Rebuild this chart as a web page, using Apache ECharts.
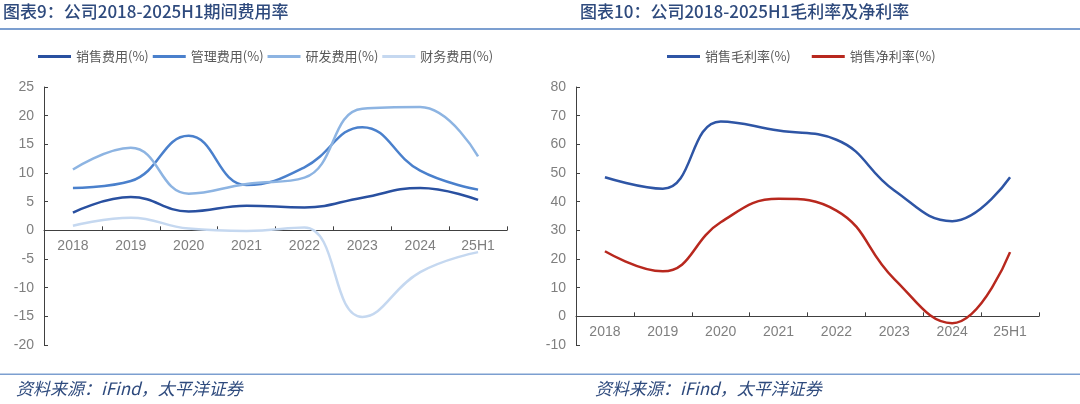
<!DOCTYPE html>
<html>
<head>
<meta charset="utf-8">
<script src="https://cdn.jsdelivr.net/npm/echarts@6/dist/echarts.min.js"></script>
<style>
html,body{margin:0;padding:0;background:#fff;}
#c{width:1080px;height:404px;}
</style>
</head>
<body>
<div id="c"></div>
<script>
var categories = ['2018','2019','2020','2021','2022','2023','2024','25H1'];
var sellingExp = [3.1, 5.8, 3.3, 4.3, 4.0, 5.7, 7.4, 5.3];
var adminExp   = [7.4, 8.6, 16.5, 7.9, 11.0, 18.0, 10.4, 7.1];
var rdExp      = [10.6, 14.4, 6.4, 8.1, 9.2, 21.2, 21.5, 12.9];
var finExp     = [0.8, 2.2, 0.3, -0.1, 0.5, -15.1, -7.3, -3.8];
var grossMargin = [48.5, 44.5, 68.0, 64.8, 61.6, 43.9, 33.2, 48.5];
var netMargin   = [22.7, 15.7, 32.8, 41.0, 36.9, 13.0, -2.4, 22.4];
var leftRange = {min:-20, max:25, interval:5};
var rightRange = {min:-10, max:80, interval:10};

var GRID_TOP = 87, GRID_H = 258;
var chart = echarts.init(document.getElementById('c'));
var navy = '#2E4A7D';
var lineBlue = '#7C9FD0';
var labelStyle = {color:'#7F7F7F',fontSize:14,fontFamily:'Liberation Sans, Arial'};
function zeroOffset(r){
  // distance (px) from grid bottom up to the zero line
  return -GRID_H * (0 - r.min) / (r.max - r.min);
}
function xAx(gi,r){
  return {
    type:'category', gridIndex:gi, data:categories, boundaryGap:true,
    position:'bottom', offset:zeroOffset(r),
    axisLine:{onZero:false,lineStyle:{color:'#404040',width:1}},
    axisTick:{show:true,inside:true,length:4,lineStyle:{color:'#404040'}},
    axisLabel:Object.assign({margin:9},labelStyle),
    splitLine:{show:false}
  };
}
function yAx(gi,r){
  return {
    type:'value', gridIndex:gi, min:r.min, max:r.max, interval:r.interval,
    axisLine:{show:true,lineStyle:{color:'#404040',width:1}},
    axisTick:{show:true,inside:true,length:4,lineStyle:{color:'#404040'}},
    axisLabel:Object.assign({margin:10},labelStyle),
    splitLine:{show:false}
  };
}
function ser(name,data,color,xi){
  return {name:name,type:'line',xAxisIndex:xi,yAxisIndex:xi,data:data,smooth:0.45,
    symbol:'none',lineStyle:{color:color,width:2.5},itemStyle:{color:color},z:3};
}
var legendText = {color:'#595959',fontSize:13,fontFamily:'Noto Sans CJK SC'};
chart.setOption({
  animation:false,
  backgroundColor:'#fff',
  grid:[
    {left:44,top:GRID_TOP,width:463,height:GRID_H},
    {left:576,top:GRID_TOP,width:463,height:GRID_H}
  ],
  legend:[
    {left:33,top:45,icon:'rect',itemWidth:33,itemHeight:3,itemGap:4,textStyle:legendText,
     data:['销售费用(%)','管理费用(%)','研发费用(%)','财务费用(%)']},
    {left:662,top:45,icon:'rect',itemWidth:33,itemHeight:3,itemGap:21,textStyle:legendText,
     data:['销售毛利率(%)','销售净利率(%)']}
  ],
  xAxis:[xAx(0,leftRange),xAx(1,rightRange)],
  yAxis:[yAx(0,leftRange),yAx(1,rightRange)],
  series:[
    ser('销售费用(%)',sellingExp,'#2950A0',0),
    ser('管理费用(%)',adminExp,'#4A80CC',0),
    ser('研发费用(%)',rdExp,'#8DB4E2',0),
    ser('财务费用(%)',finExp,'#C5D8F0',0),
    ser('销售毛利率(%)',grossMargin,'#2E55A5',1),
    ser('销售净利率(%)',netMargin,'#B8281E',1)
  ],
  graphic:[
    {type:'text',left:3,top:3,style:{text:'图表9：公司2018-2025H1期间费用率',fill:navy,font:'500 17px "Noto Sans CJK SC"'}},
    {type:'text',left:580,top:3,style:{text:'图表10：公司2018-2025H1毛利率及净利率',fill:navy,font:'500 17px "Noto Sans CJK SC"'}},
    {type:'rect',shape:{x:0,y:28,width:1080,height:2},style:{fill:lineBlue},silent:true},
    {type:'rect',shape:{x:0,y:373.5,width:1080,height:1.5},style:{fill:lineBlue},silent:true},
    {type:'text',left:16,top:380,style:{text:'资料来源：iFind，太平洋证券',fill:navy,font:'italic 17px "Noto Sans CJK SC"'}},
    {type:'text',left:595,top:380,style:{text:'资料来源：iFind，太平洋证券',fill:navy,font:'italic 17px "Noto Sans CJK SC"'}}
  ]
});
</script>
</body>
</html>
